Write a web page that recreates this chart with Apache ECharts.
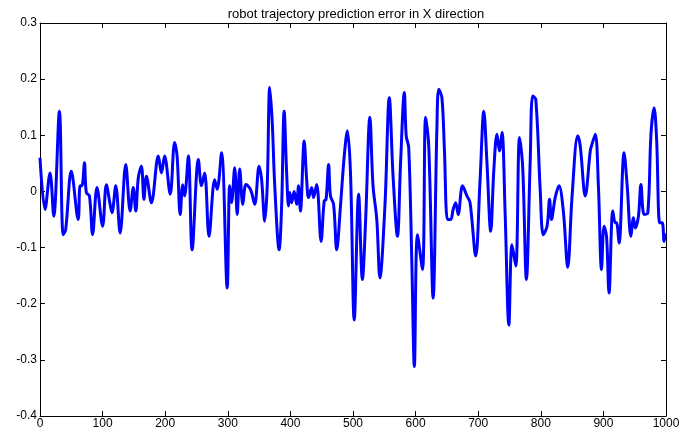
<!DOCTYPE html>
<html>
<head>
<meta charset="utf-8">
<script src="https://cdn.jsdelivr.net/npm/echarts@6/dist/echarts.min.js"></script>
<style>html,body{margin:0;padding:0;background:#fff}#c{width:696px;height:435px}</style>
</head>
<body>
<div id="c"></div>
<script>
const titleText = 'robot trajectory prediction error in X direction';
const xTicks = [0,100,200,300,400,500,600,700,800,900,1000];
const yTicks = [-0.4,-0.3,-0.2,-0.1,0,0.1,0.2,0.3];
const sampleX = [0,8,16,22,31,37,41,50,61,64,67,71,74,79,84,91,100,106,112,115,121,128,137,144,149,153,157,162,166,170,178,189,194,199,208,215,219,224,228,231,237,243,253,258,263,270,279,283,290,299,303,306,311,315,319,324,329,335,338,343,350,354,359,363,367,371,375,382,386,390,394,397,399,402,406,410,413,416,422,426,429,434,437,442,449,454,457,461,464,469,474,480,486,491,496,502,509,515,520,527,532,538,543,551,558,564,571,576,582,585,589,594,598,603,611,616,621,628,634,637,642,646,651,656,660,664,668,675,682,687,696,703,709,714,720,725,730,734,738,743,749,754,760,766,771,777,783,787,792,799,804,810,814,817,823,829,836,843,850,859,863,871,879,881,887,892,897,901,905,909,915,919,921,925,933,938,944,948,951,956,960,965,971,976,981,985,990,994,997,999];
const errorX = [0.06,-0.032,0.033,-0.044,0.143,-0.077,-0.068,0.036,-0.05,0.01,0.01,0.051,-0.002,-0.008,-0.077,0.007,-0.062,0.012,-0.023,-0.038,0.01,-0.074,0.048,-0.035,0.007,-0.035,0.024,0.045,-0.014,0.027,-0.02,0.063,0.033,0.063,-0.005,0.087,0.063,-0.041,0.012,-0.008,0.063,-0.104,0.057,0.01,0.033,-0.08,0.021,0.004,0.069,-0.172,0.01,-0.02,0.042,-0.041,0.04,-0.023,0.0125,0.006,-0.002,-0.023,0.045,0.021,-0.053,0.01,0.185,0.123,0.01,-0.104,-0.026,0.143,0.033,-0.026,-0.002,-0.02,0.0,-0.023,0.01,-0.035,0.09,0.021,-0.011,0.007,-0.011,0.0125,-0.089,-0.017,-0.014,0.048,-0.008,-0.023,-0.104,-0.026,0.063,0.108,0.033,-0.229,-0.005,-0.157,-0.056,0.132,0.01,-0.05,-0.154,-0.026,0.167,0.027,-0.08,0.051,0.176,0.099,0.078,-0.127,-0.312,-0.077,-0.139,0.132,0.081,-0.19,0.111,0.182,0.167,0.075,-0.05,-0.05,-0.032,-0.02,-0.041,0.01,-0.008,-0.02,-0.115,0.021,0.143,0.051,-0.071,0.039,0.102,0.072,0.105,-0.038,-0.238,-0.095,-0.133,0.096,0.045,-0.157,0.051,0.17,0.164,0.004,-0.077,-0.062,-0.014,-0.05,-0.011,0.01,-0.035,-0.135,-0.008,0.099,0.081,-0.008,0.072,0.081,0.102,0.01,-0.139,-0.062,-0.08,-0.181,-0.035,-0.056,-0.056,-0.092,0.069,0.01,-0.08,-0.047,-0.065,-0.044,0.0125,-0.041,-0.038,0.102,0.149,0.093,-0.056,-0.056,-0.089,-0.075];

const data = sampleX.map((x, i) => [x, errorX[i]]);
const font = '"Liberation Sans", Arial, Helvetica, sans-serif';
const fmtY = v => { const r = Math.round(v * 10) / 10; return r === 0 ? '0' : String(r); };
const fmtX = v => String(Math.round(v));
const axisLine = { show: true, onZero: false, lineStyle: { color: '#000', width: 1 } };
const tick = { show: true, inside: true, length: 5, lineStyle: { color: '#000', width: 1 } };

const chart = echarts.init(document.getElementById('c'), null, { renderer: 'canvas' });
chart.setOption({
  animation: false,
  backgroundColor: '#fff',
  title: {
    text: titleText, left: 351, top: 3, textAlign: 'center',
    textStyle: { fontSize: 13, fontWeight: 'normal', color: '#000', fontFamily: font }
  },
  grid: { left: 40, right: 30, top: 23, bottom: 19, containLabel: false },
  xAxis: [
    { type: 'value', min: xTicks[0], max: xTicks[xTicks.length - 1], interval: 100, position: 'bottom',
      axisLine, axisTick: tick, splitLine: { show: false },
      axisLabel: { color: '#000', fontSize: 12, fontFamily: font, margin: 2, formatter: fmtX } },
    { type: 'value', min: xTicks[0], max: xTicks[xTicks.length - 1], interval: 100, position: 'top',
      axisLine, axisTick: tick, splitLine: { show: false }, axisLabel: { show: false } }
  ],
  yAxis: [
    { type: 'value', min: yTicks[0], max: yTicks[yTicks.length - 1], interval: 0.1, position: 'left',
      axisLine, axisTick: tick, splitLine: { show: false },
      axisLabel: { color: '#000', fontSize: 12, fontFamily: font, margin: 3, formatter: fmtY } },
    { type: 'value', min: yTicks[0], max: yTicks[yTicks.length - 1], interval: 0.1, position: 'right',
      axisLine, axisTick: tick, splitLine: { show: false }, axisLabel: { show: false } }
  ],
  series: [{
    type: 'line', data, xAxisIndex: 0, yAxisIndex: 0,
    showSymbol: false, smooth: 0.35,
    lineStyle: { color: '#0000ff', width: 3 },
    itemStyle: { color: '#0000ff' }
  }]
});
</script>
</body>
</html>
